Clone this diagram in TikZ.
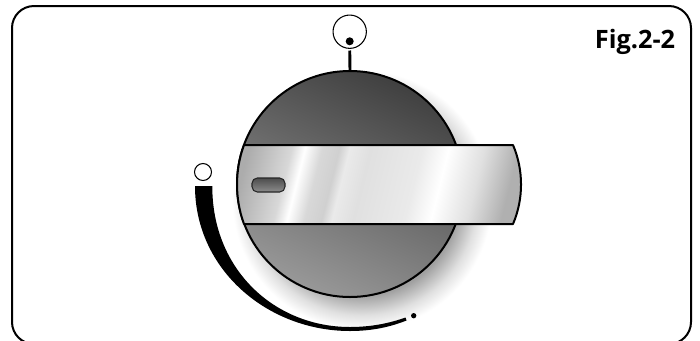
\documentclass[tikz,border=0pt]{standalone}
\usepackage{fontspec}
\setmainfont{Open Sans}
\usepackage{xcolor}
\usetikzlibrary{positioning,calc}
\definecolor{fdark}{HTML}{404040}
\definecolor{flight}{HTML}{989898}
\definecolor{bara}{HTML}{ACACAC}
\definecolor{barb}{HTML}{D8D8D8}
\definecolor{barc}{HTML}{D0D0D0}
\definecolor{bard}{HTML}{EAEAEA}
\definecolor{bare}{HTML}{E0E0E0}
\definecolor{barf}{HTML}{B0B0B0}
\definecolor{glowa}{HTML}{A0A0A0}
\definecolor{glowb}{HTML}{C0C0C0}
\definecolor{glowc}{HTML}{E0E0E0}
\pgfdeclarehorizontalshading{barmetal}{100bp}{
  color(0bp)=(bara); color(22.5bp)=(bara); color(31bp)=(barb); color(33.6bp)=(white);
  color(37bp)=(barb); color(40.4bp)=(barc); color(42.4bp)=(bard); color(46.5bp)=(bare); color(56.7bp)=(bard);
  color(61.9bp)=(white); color(69bp)=(bare); color(75.7bp)=(barf); color(100bp)=(barf)}
\pgfdeclareradialshading{dialglow}{\pgfpoint{0bp}{0bp}}{
  color(0bp)=(glowa); color(18bp)=(glowa); color(19.9bp)=(glowb); color(21.8bp)=(glowc);
  color(24.6bp)=(white); color(50bp)=(white)}
\tikzset{
  dialbody/.style = {draw, circle, line width=1.5pt, inner sep=0pt, minimum size=169.5pt,
                     top color=fdark, bottom color=flight, shading angle=-25},
  ringmark/.style = {draw, circle, fill=white, line width=0.8pt, inner sep=0pt},
  dotmark/.style  = {fill=black, circle, inner sep=0pt},
  slotmark/.style = {draw=black!85, rectangle, rounded corners=4pt, line width=0.8pt, inner sep=0pt,
                     minimum width=24.75pt, minimum height=10.5pt,
                     top color=black!70, bottom color=black!45},
  lever/.style    = {draw, line width=1.5pt, line join=round, shading=barmetal, shading angle=-14},
  mainline/.style = {draw, line width=1.5pt},
}
\begin{document}
\begin{tikzpicture}[x=0.75pt,y=-0.75pt]
\useasboundingbox (0,0) rectangle (700,340);
\clip (0,0) rectangle (700,340);
% ---- outer frame ----
\draw[mainline,rounded corners=16.5pt] (12,6) rectangle (691,344);
\node[font=\bfseries\fontsize{19pt}{20pt}\selectfont,anchor=base] (figlabel) at (635,48.5) {Fig.2-2};
% ---- shadow under the knob ----
\shade[shading=dialglow] (362,200) circle (132);
% ---- travel scale ----
\fill (195,186) .. controls (195,270) and (268,331) .. (350,331)
  .. controls (372,331) and (390,327) .. (406.5,320.5) -- (405.5,317.5)
  .. controls (390,323) and (372,327) .. (350,327)
  .. controls (275,327) and (212,270) .. (212.3,186) -- cycle;
\node[ringmark,minimum size=12.75pt] (offring) at (203,172) {};
\node[dotmark,minimum size=4pt] (enddot) at (413.7,315.7) {};
% ---- knob ----
\node[dialbody] (dial) at (350,184) {};
\node[ringmark,minimum size=25pt] (topring) at (349.7,31.7) {};
\node[dotmark,minimum size=6pt] (topdot) at (349.7,41.3) {};
\draw[line width=2.2pt,shorten <=1.2pt] (topring.south) -- (dial.north);
% lever across the knob
\path[lever] (244,145) -- (513,145) .. controls (523.7,170) and (523.7,199) .. (513,224)
  -- (244,224) .. controls (234.7,199) and (234.7,170) .. (244,145) -- cycle;
\node[slotmark] (slot) at (268.5,185) {};
\end{tikzpicture}
\end{document}
